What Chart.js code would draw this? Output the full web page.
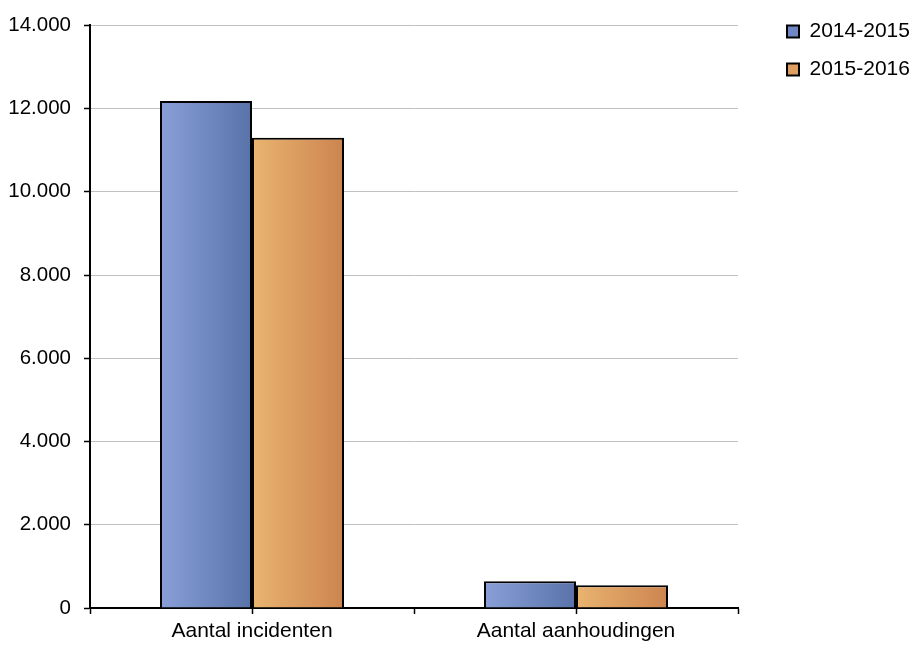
<!DOCTYPE html>
<html>
<head>
<meta charset="utf-8">
<script src="https://cdn.jsdelivr.net/npm/chart.js@4"></script>
<style>
  html, body { margin: 0; padding: 0; background: #fff; }
  #wrap { width: 913px; height: 650px; position: relative; }
</style>
</head>
<body>
<div id="wrap"><canvas id="c" width="913" height="650"></canvas></div>
<script>
const categories = ['Aantal incidenten', 'Aantal aanhoudingen'];
const seriesNames = ['2014-2015', '2015-2016'];
const values2014 = [12180, 640];
const values2015 = [11300, 545];
const yTickValues = [0, 2000, 4000, 6000, 8000, 10000, 12000, 14000];
const yTickLabels = ['0', '2.000', '4.000', '6.000', '8.000', '10.000', '12.000', '14.000'];

const FONT = "'Liberation Sans', Arial, sans-serif";
const catPct = 0.568;
const gradStops = [['#8a9fd8', '#5873a9'], ['#e9b470', '#cc844f']];
const legendFill = ['#6f87c4', '#dd9e60'];

function barGradient(ctx) {
  const chart = ctx.chart;
  const stops = gradStops[ctx.datasetIndex] || gradStops[0];
  const xs = chart.scales && chart.scales.x;
  if (!chart.chartArea || !xs || ctx.dataIndex === undefined) return stops[0];
  const center = xs.getPixelForValue(ctx.dataIndex);
  const catW = xs.width / categories.length;
  const bw = catW * catPct / 2;
  const left = center - bw + ctx.datasetIndex * bw;
  const g = chart.ctx.createLinearGradient(left, 0, left + bw, 0);
  g.addColorStop(0, stops[0]);
  g.addColorStop(1, stops[1]);
  return g;
}

const centerTicks = {
  id: 'centerTicks',
  afterDraw(chart) {
    const xs = chart.scales.x;
    const c = chart.ctx;
    c.save();
    c.strokeStyle = '#000';
    c.lineWidth = 1.5;
    for (let i = 0; i < categories.length; i++) {
      const px = Math.round(xs.getPixelForValue(i)) + 0.5;
      c.beginPath();
      c.moveTo(px, xs.top);
      c.lineTo(px, xs.top + 6);
      c.stroke();
    }
    c.restore();
  }
};

new Chart(document.getElementById('c'), {
  type: 'bar',
  data: {
    labels: categories,
    datasets: [
      { label: seriesNames[0], data: values2014, backgroundColor: barGradient, borderColor: '#000', borderWidth: 2 },
      { label: seriesNames[1], data: values2015, backgroundColor: barGradient, borderColor: '#000', borderWidth: 2 }
    ]
  },
  options: {
    responsive: false,
    animation: false,
    devicePixelRatio: 1,
    layout: { padding: { top: 4, left: 0, right: 0, bottom: 0 } },
    datasets: { bar: { categoryPercentage: catPct, barPercentage: 1 } },
    plugins: {
      tooltip: { enabled: false },
      legend: {
        position: 'right',
        align: 'start',
        maxWidth: 143,
        labels: {
          boxWidth: 12,
          boxHeight: 12,
          padding: 17,
          color: '#000',
          font: { family: FONT, size: 21 },
          generateLabels(chart) {
            return chart.data.datasets.map((ds, i) => ({
              text: ds.label,
              fillStyle: legendFill[i],
              strokeStyle: '#000',
              lineWidth: 2,
              hidden: false,
              datasetIndex: i,
              fontColor: '#000'
            }));
          }
        }
      }
    },
    scales: {
      x: {
        type: 'category',
        position: 'bottom',
        offset: true,
        grid: { display: true, drawOnChartArea: false, drawTicks: true, offset: true, tickLength: 6, tickColor: '#000', tickWidth: 1.5, color: '#000' },
        border: { display: true, color: '#000', width: 2 },
        ticks: { color: '#000', font: { family: FONT, size: 21 }, padding: 5, maxRotation: 0 },
        afterFit(s) { s.height = 42; }
      },
      xTop: {
        type: 'category',
        position: 'top',
        display: true,
        grid: { display: false },
        border: { display: false },
        ticks: { display: false },
        afterFit(s) { s.height = 19; }
      },
      y: {
        type: 'linear',
        position: 'left',
        min: 0,
        max: 14000,
        grid: { color: '#c0c0c0', lineWidth: 1, tickLength: 6, tickColor: '#000', tickWidth: 1.5 },
        border: { display: true, color: '#000', width: 2 },
        afterBuildTicks(s) { s.ticks = yTickValues.map(v => ({ value: v })); },
        ticks: {
          color: '#000',
          font: { family: FONT, size: 20.5 },
          padding: 13,
          callback(value) {
            const i = yTickValues.indexOf(value);
            return i >= 0 ? yTickLabels[i] : '';
          }
        },
        afterFit(s) { s.width = 90; }
      },
      yRight: {
        type: 'linear',
        position: 'right',
        display: true,
        grid: { display: false },
        border: { display: false },
        ticks: { display: false },
        afterFit(s) { s.width = 32; }
      }
    }
  },
  plugins: [centerTicks]
});
</script>
</body>
</html>
